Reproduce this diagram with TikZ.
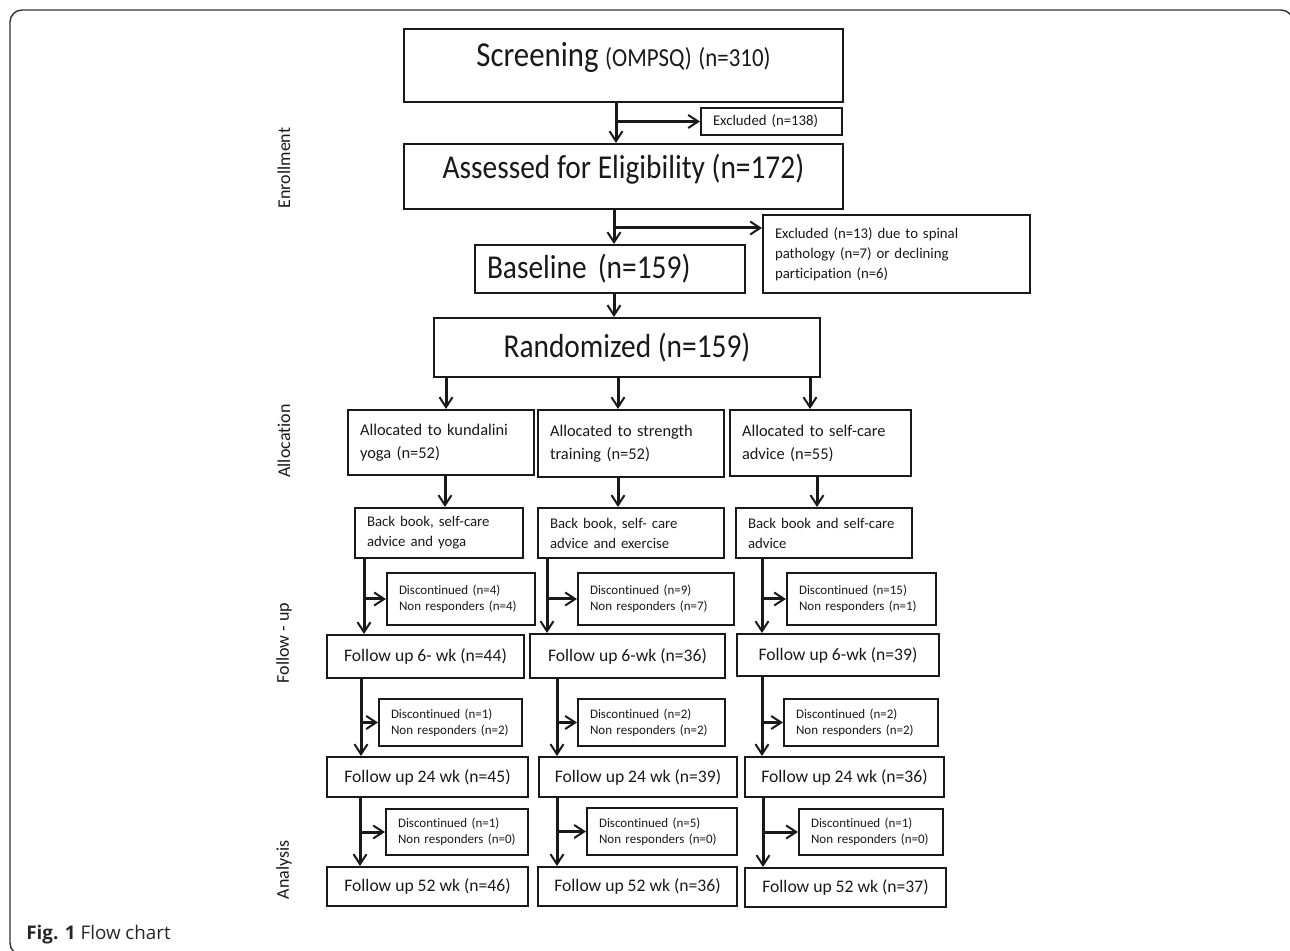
\documentclass[tikz,border=0pt]{standalone}
\usepackage{fontspec}
\setmainfont{Carlito}[Ligatures=NoCommon]
\newfontfamily\tallfont{Carlito}[FakeStretch=0.88, Ligatures=NoCommon]
\newfontfamily\capfont{Open Sans}
\usetikzlibrary{arrows.meta}

\begin{document}
\begin{tikzpicture}[x=0.5pt,y=-0.5pt,
    box/.style={draw=black!90, line width=1pt, anchor=north west, inner xsep=6pt, inner ysep=0pt, align=left, text=black!90},
    cbox/.style={draw=black!90, line width=1pt, anchor=north west, inner sep=0pt, align=center, text=black!90},
    big/.style={font=\tallfont\fontsize{16.7}{19}\selectfont},
    alloc/.style={font=\fontsize{8.2}{11.5}\selectfont},
    small/.style={font=\fontsize{7.4}{10}\selectfont},
    tiny/.style={font=\fontsize{6.5}{8}\selectfont},
    fu/.style={font=\fontsize{8.8}{10}\selectfont},
    side/.style={rotate=90, font=\fontsize{9}{10}\selectfont, text=black!90},
    arr/.style={line width=1.5pt, draw=black!90, -{Straight Barb[length=5pt,width=6.5pt,line width=1pt]}}]
  \useasboundingbox (0,0) rectangle (1290,951);
  % Frame round the figure
  \draw[line width=0.7pt, black!80, rounded corners=6pt] (1293,300) -- (1293,10) -- (10,10) -- (10,955) -- (300,955);

  % Enrollment
  \node[cbox, big, minimum width=219.5pt, minimum height=36.5pt, text height=10pt, text depth=8.5pt] (scr) at (403,28)
    {{\fontsize{17.5}{19}\selectfont Screening} {\fontsize{13}{15}\selectfont (OMPSQ)} {\fontsize{13}{15}\selectfont (n=310)}};
  \node[box, small, text width=58.5pt, minimum height=13.5pt] (ex1) at (700,107) {Excluded (n=138)};
  \node[cbox, big, minimum width=219.5pt, minimum height=32.5pt, text height=10pt, text depth=8pt] (ass) at (403,143)
    {Assessed for Eligibility (n=172)};
  \node[box, small, text width=121.5pt, minimum height=39pt] (ex2) at (762,214)
    {Excluded (n=13) due to spinal\\pathology (n=7) or declining\\participation (n=6)};
  \node[box, big, text width=123pt, minimum height=24pt] (base) at (474,244) {Baseline (n=159)};
  \node[cbox, big, minimum width=193pt, minimum height=29.5pt] (rnd) at (433,317) {Randomized (n=159)};

  % Allocation
  \node[box, alloc, text width=81pt, minimum height=32.5pt] (al1) at (347,409) {Allocated to kundalini\\yoga (n=52)};
  \node[box, alloc, text width=81pt, minimum height=33.5pt] (al2) at (537,409) {Allocated to strength\\training (n=52)};
  \node[box, alloc, text width=78.5pt, minimum height=33pt] (al3) at (729,409) {Allocated to self-care\\advice (n=55)};
  \node[box, small, text width=72pt, minimum height=25pt] (bk1) at (354,507) {Back book, self-care\\advice and yoga};
  \node[box, small, text width=81pt, minimum height=25pt] (bk2) at (537,507) {Back book, self- care\\advice and exercise};
  \node[box, small, text width=76pt, minimum height=25pt] (bk3) at (735,507) {Back book and self-care\\advice};

  % Follow-up, 6 weeks
  \node[box, tiny, text width=62pt, minimum height=26pt] (dc11) at (386,572) {Discontinued (n=4)\\Non responders (n=4)};
  \node[box, tiny, text width=66pt, minimum height=26pt] (dc21) at (577,572) {Discontinued (n=9)\\Non responders (n=7)};
  \node[box, tiny, text width=62.5pt, minimum height=26pt] (dc31) at (786,572) {Discontinued (n=15)\\Non responders (n=1)};
  \node[cbox, fu, minimum width=98.5pt, minimum height=21.5pt] (fa1) at (326,634) {Follow up 6- wk (n=44)};
  \node[cbox, fu, minimum width=97.5pt, minimum height=22pt] (fa2) at (529,633) {Follow up 6-wk (n=36)};
  \node[cbox, fu, minimum width=101pt, minimum height=21pt] (fa3) at (736,633) {Follow up 6-wk (n=39)};

  % Follow-up, 24 weeks
  \node[box, tiny, text width=59.5pt, minimum height=23.5pt] (dc12) at (378,698) {Discontinued (n=1)\\Non responders (n=2)};
  \node[box, tiny, text width=61.5pt, minimum height=23.5pt] (dc22) at (577,698) {Discontinued (n=2)\\Non responders (n=2)};
  \node[box, tiny, text width=65pt, minimum height=23.5pt] (dc32) at (783,698) {Discontinued (n=2)\\Non responders (n=2)};
  \node[cbox, fu, minimum width=100.5pt, minimum height=20pt] (fb1) at (326,756) {Follow up 24 wk (n=45)};
  \node[cbox, fu, minimum width=99pt, minimum height=20pt] (fb2) at (538,756) {Follow up 24 wk (n=39)};
  \node[cbox, fu, minimum width=99.5pt, minimum height=20pt] (fb3) at (744,756) {Follow up 24 wk (n=36)};

  % Analysis, 52 weeks
  \node[box, tiny, text width=59pt, minimum height=23pt] (dc13) at (385,808) {Discontinued (n=1)\\Non responders (n=0)};
  \node[box, tiny, text width=63pt, minimum height=23.5pt] (dc23) at (586,807) {Discontinued (n=5)\\Non responders (n=0)};
  \node[box, tiny, text width=60pt, minimum height=23pt] (dc33) at (798,808) {Discontinued (n=1)\\Non responders (n=0)};
  \node[cbox, fu, minimum width=100.5pt, minimum height=19.5pt] (fc1) at (326,866) {Follow up 52 wk (n=46)};
  \node[cbox, fu, minimum width=99.5pt, minimum height=19.5pt] (fc2) at (537,866) {Follow up 52 wk (n=36)};
  \node[cbox, fu, minimum width=100.5pt, minimum height=19.5pt] (fc3) at (744,867) {Follow up 52 wk (n=37)};

  % Stage labels on the left
  \node[side] (lab1) at (284,168) {Enrollment};
  \node[side] (lab2) at (284,441) {Allocation};
  \node[side] (lab3) at (284,643) {Follow - up};
  \node[side] (lab4) at (284,870) {Analysis};
  \node[anchor=base west, inner sep=0pt, font=\capfont\fontsize{9.4}{11}\selectfont, text=black!85] (cap) at (26,939)
    {\textbf{Fig. 1} Flow chart};

  % Arrows of the enrollment part
  \draw[arr] (scr.south -| 616,0) -- (ass.north -| 616,0);
  \draw[arr] (616,0 |- ex1.west) -- (ex1.west);
  \draw[arr] (ass.south -| 614,0) -- (base.north -| 614,0);
  \draw[arr] (614,228) -- (ex2.west |- 614,228);
  \draw[arr] (base.south -| 614,0) -- (rnd.north -| 614,0);
  % Randomized to the three arms
  \draw[arr] (rnd.south -| 446,0) -- (al1.north -| 446,0);
  \draw[arr] (rnd.south -| 618,0) -- (al2.north -| 618,0);
  \draw[arr] (rnd.south -| 810,0) -- (al3.north -| 810,0);
  \draw[arr] (al1.south -| 445,0) -- (bk1.north -| 445,0);
  \draw[arr] (al2.south -| 618,0) -- (bk2.north -| 618,0);
  \draw[arr] (al3.south -| 817,0) -- (bk3.north -| 817,0);
  % Down to 6 weeks
  \draw[arr] (bk1.south -| 364,0) -- (fa1.north -| 364,0);
  \draw[arr] (364,0 |- dc11.west) -- (dc11.west);
  \draw[arr] (bk2.south -| 547,0) -- (fa2.north -| 547,0);
  \draw[arr] (547,0 |- dc21.west) -- (dc21.west);
  \draw[arr] (bk3.south -| 762,0) -- (fa3.north -| 762,0);
  \draw[arr] (762,0 |- dc31.west) -- (dc31.west);
  % Down to 24 weeks
  \draw[arr] (fa1.south -| 361,0) -- (fb1.north -| 361,0);
  \draw[arr] (361,0 |- dc12.west) -- (dc12.west);
  \draw[arr] (fa2.south -| 557,0) -- (fb2.north -| 557,0);
  \draw[arr] (557,0 |- dc22.west) -- (dc22.west);
  \draw[arr] (fa3.south -| 762,0) -- (fb3.north -| 762,0);
  \draw[arr] (762,0 |- dc32.west) -- (dc32.west);
  % Down to 52 weeks
  \draw[arr] (fb1.south -| 360,0) -- (fc1.north -| 360,0);
  \draw[arr] (360,0 |- dc13.west) -- (dc13.west);
  \draw[arr] (fb2.south -| 557,0) -- (fc2.north -| 557,0);
  \draw[arr] (557,0 |- dc23.west) -- (dc23.west);
  \draw[arr] (fb3.south -| 763,0) -- (fc3.north -| 763,0);
  \draw[arr] (763,0 |- dc33.west) -- (dc33.west);
\end{tikzpicture}
\end{document}
